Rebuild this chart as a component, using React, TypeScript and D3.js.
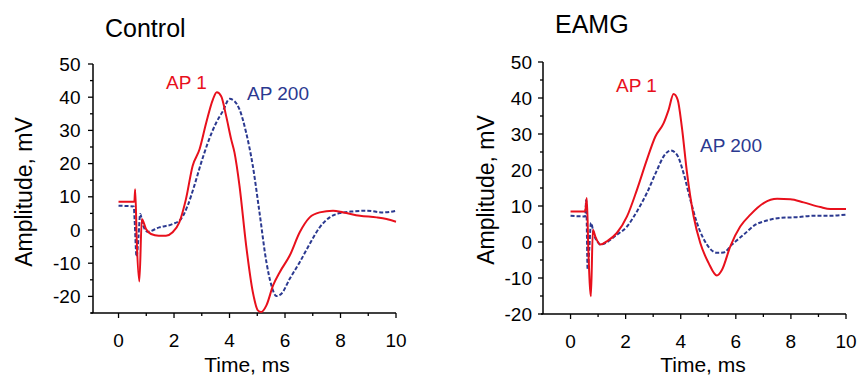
import React from "react";
import * as d3 from "d3";

type Pt = [number, number];

// Control panel series (time ms, amplitude mV)
const controlAP1: Pt[] = [
  [0, 8.5], [0.57, 8.5], [0.6, 12.3], [0.66, -4], [0.75, -15.5], [0.84, 3.3], [0.99, 0.3], [1.17, -1.2],
  [1.45, -1.7], [1.71, -1.7], [1.95, -0.7], [2.19, 2.3], [2.43, 9.3], [2.67, 19.3], [2.92, 24.3],
  [3.16, 32.3], [3.4, 39.3], [3.54, 41.5], [3.7, 40.3], [3.88, 34.3], [4.06, 27.3], [4.18, 23.3],
  [4.36, 13.3], [4.6, -4.7], [4.84, -18.7], [5.02, -24.2], [5.14, -24.7], [5.33, -22.7], [5.57, -16.7],
  [5.81, -12.7], [6.17, -7.7], [6.53, -0.7], [6.89, 3.8], [7.25, 5.3], [7.73, 5.8], [8.1, 5.3],
  [8.7, 4.3], [9.3, 3.8], [9.66, 3.3], [10, 2.5],
];
const controlAP200: Pt[] = [
  [0, 7.3], [0.55, 7.1], [0.58, 3], [0.65, -8], [0.72, -2], [0.78, 4.8], [0.88, 1.5], [1.05, -0.5],
  [1.47, 0.8], [1.95, 1.8], [2.25, 3.3], [2.49, 7.3], [2.73, 13.3], [2.98, 20.3], [3.22, 26.3],
  [3.52, 32.3], [3.76, 35.8], [4.0, 39.5], [4.18, 38.8], [4.36, 36.3], [4.6, 29.3], [4.84, 19.3],
  [5.08, 5.3], [5.33, -9.7], [5.51, -16.7], [5.69, -19.9], [5.87, -19.2], [6.17, -14.7], [6.53, -9.7],
  [6.89, -4.2], [7.25, 0.8], [7.61, 3.8], [7.98, 5.1], [8.46, 5.6], [8.94, 5.8], [9.54, 5.3], [10, 5.8],
];

// EAMG panel series
const eamgAP1: Pt[] = [
  [0, 8.5], [0.53, 8.5], [0.59, 12.2], [0.65, -3], [0.74, -15.1], [0.81, 3.4], [0.9, 1.5], [1.08, -0.7],
  [1.32, 0.2], [1.68, 2.5], [2.05, 7.1], [2.41, 14.5], [2.77, 22.8], [3.08, 29.3], [3.38, 33],
  [3.56, 36.7], [3.74, 41.1], [3.89, 39.5], [4.04, 32], [4.23, 19.1], [4.47, 7.1], [4.71, -0.3],
  [5.01, -5.8], [5.31, -9.3], [5.5, -7.7], [5.8, -1.2], [6.16, 4.3], [6.53, 7.6], [7.01, 10.8],
  [7.5, 12], [7.98, 11.9], [8.46, 11], [9.07, 9.7], [9.43, 9.2], [10, 9.2],
];
const eamgAP200: Pt[] = [
  [0, 7.3], [0.53, 7.1], [0.57, 11.7], [0.62, -7.7], [0.68, -2], [0.74, 5.3], [0.85, 2], [1.02, -0.3],
  [1.08, -0.7], [1.68, 2], [2.05, 4.3], [2.41, 8.5], [2.77, 13.6], [3.14, 20], [3.38, 23.8],
  [3.64, 25.4], [3.86, 24.3], [4.1, 19.2], [4.35, 11.7], [4.59, 5.3], [4.95, -0.7], [5.31, -3],
  [5.56, -2.9], [5.86, -0.7], [6.28, 2], [6.71, 4.8], [7.01, 5.7], [7.61, 6.7], [8.22, 6.9],
  [8.83, 7.3], [9.43, 7.3], [10, 7.6],
];

const xTickValues = [0, 2, 4, 6, 8, 10];
const xMinorTicks = [1, 3, 5, 7, 9];
const yTickValues = [-20, -10, 0, 10, 20, 30, 40, 50];
const yMinorTicksControl = [-25, -15, -5, 5, 15, 25, 35, 45];
const yMinorTicksEamg = [-15, -5, 5, 15, 25, 35, 45];

const RED = "#e8101c";
const BLUE = "#2b3990";
const FONT = "'Liberation Sans', Arial, sans-serif";

interface PanelProps {
  title: string;
  titleX: number;
  titleY: number;
  xDomain: [number, number];
  xRange: [number, number];
  yDomain: [number, number];
  yRange: [number, number];
  yMinor: number[];
  ap1: Pt[];
  ap200: Pt[];
  ap1Label: [number, number];
  ap200Label: [number, number];
  yLabelX: number;
  yLabelY: number;
  xLabelX: number;
  tickGap: number;
}

function Panel(p: PanelProps) {
  const x = d3.scaleLinear().domain(p.xDomain).range(p.xRange);
  const y = d3.scaleLinear().domain(p.yDomain).range(p.yRange);
  const line = d3
    .line<Pt>()
    .x((d) => x(d[0]))
    .y((d) => y(d[1]))
    .curve(d3.curveMonotoneX);
  const x0 = p.xRange[0];
  const y0 = p.yRange[0];
  return (
    <g fontFamily={FONT}>
      <text x={p.titleX} y={p.titleY} fontSize={25} fill="#000">
        {p.title}
      </text>
      {/* axes */}
      <line x1={x0} x2={x0} y1={p.yRange[1]} y2={y0} stroke="#000" strokeWidth={1.5} />
      <line x1={x0 - 2} x2={p.xRange[1]} y1={y0} y2={y0} stroke="#000" strokeWidth={1.5} />
      {yTickValues.map((v) => (
        <g key={"yt" + v}>
          <line x1={x0 - 5} x2={x0} y1={y(v)} y2={y(v)} stroke="#000" strokeWidth={1.3} />
          <text x={x0 - p.tickGap} y={y(v)} dy="0.35em" textAnchor="end" fontSize={19} fill="#000">
            {v}
          </text>
        </g>
      ))}
      {p.yMinor.map((v) => (
        <line key={"ym" + v} x1={x0 - 3} x2={x0} y1={y(v)} y2={y(v)} stroke="#000" strokeWidth={1.3} />
      ))}
      {xTickValues.map((v) => (
        <g key={"xt" + v}>
          <line x1={x(v)} x2={x(v)} y1={y0} y2={y0 + 5} stroke="#000" strokeWidth={1.3} />
          <text x={x(v)} y={y0 + 34} textAnchor="middle" fontSize={19} fill="#000">
            {v}
          </text>
        </g>
      ))}
      {xMinorTicks.map((v) => (
        <line key={"xm" + v} x1={x(v)} x2={x(v)} y1={y0} y2={y0 + 3} stroke="#000" strokeWidth={1.3} />
      ))}
      <text x={p.xLabelX} y={372} textAnchor="middle" fontSize={21} fill="#000">
        Time, ms
      </text>
      <text
        transform={`translate(${p.yLabelX},${p.yLabelY}) rotate(-90)`}
        textAnchor="middle"
        fontSize={23}
        fill="#000"
      >
        Amplitude, mV
      </text>
      {/* curves */}
      <path d={line(p.ap200) ?? ""} fill="none" stroke={BLUE} strokeWidth={2} strokeDasharray="4,2" />
      <path d={line(p.ap1) ?? ""} fill="none" stroke={RED} strokeWidth={2} />
      <text x={p.ap1Label[0]} y={p.ap1Label[1]} fontSize={19} fill={RED}>
        AP 1
      </text>
      <text x={p.ap200Label[0]} y={p.ap200Label[1]} fontSize={19} fill={BLUE}>
        AP 200
      </text>
    </g>
  );
}

export default function App() {
  return (
    <svg
      width={860}
      height={381}
      style={{ position: "absolute", left: 0, top: 0, background: "#fff" }}
    >
      <Panel
        title="Control"
        titleX={105}
        titleY={37}
        xDomain={[-0.92, 10]}
        xRange={[93, 396]}
        yDomain={[-25, 50]}
        yRange={[313, 64]}
        yMinor={yMinorTicksControl}
        ap1={controlAP1}
        ap200={controlAP200}
        ap1Label={[166, 89]}
        ap200Label={[247, 100]}
        yLabelX={32}
        yLabelY={192}
        xLabelX={247}
        tickGap={12.5}
      />
      <Panel
        title="EAMG"
        titleX={555}
        titleY={33}
        xDomain={[-1, 10]}
        xRange={[543, 846]}
        yDomain={[-20, 50]}
        yRange={[314, 62]}
        yMinor={yMinorTicksEamg}
        ap1={eamgAP1}
        ap200={eamgAP200}
        ap1Label={[616, 92]}
        ap200Label={[700, 152]}
        yLabelX={494}
        yLabelY={190}
        xLabelX={703}
        tickGap={11}
      />
    </svg>
  );
}
